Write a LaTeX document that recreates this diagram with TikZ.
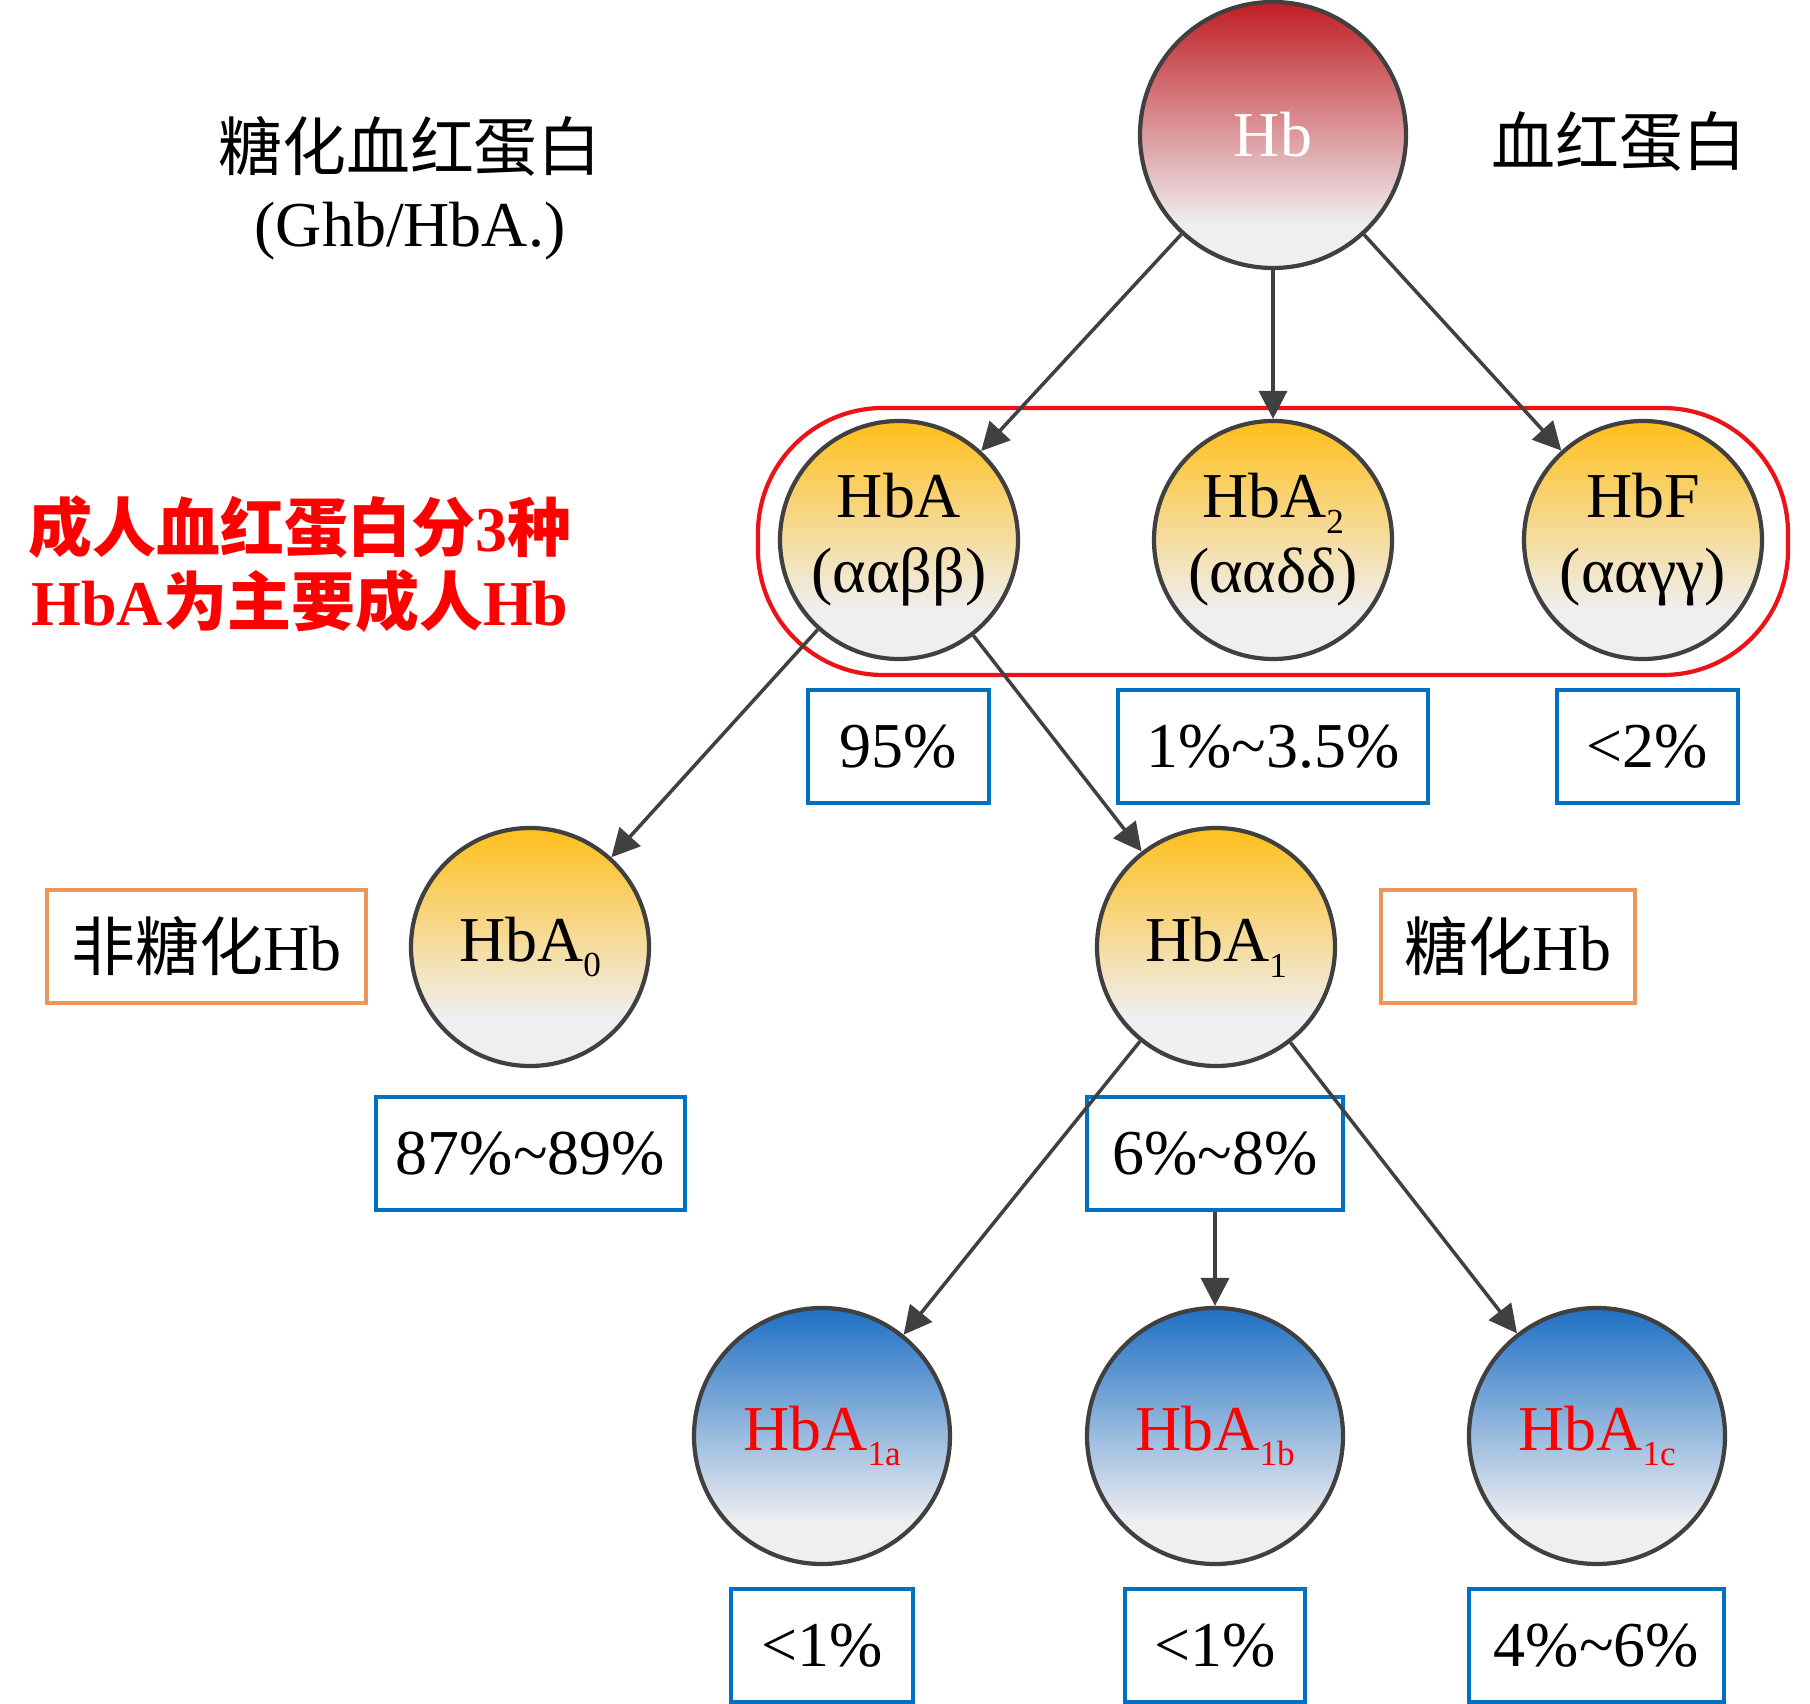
\documentclass[tikz,border=0pt]{standalone}
\usepackage{fontspec}
\setmainfont{Liberation Serif}
\newfontfamily\cjk{Noto Sans CJK SC}
\usetikzlibrary{arrows.meta,shapes}

\definecolor{hbred}{RGB}{192,30,36}
\definecolor{amber}{RGB}{255,191,28}
\definecolor{hbblue}{RGB}{30,112,196}
\definecolor{fadegray}{RGB}{239,239,241}
\definecolor{rimgray}{RGB}{64,64,64}
\definecolor{boxblue}{RGB}{0,112,192}
\definecolor{boxorange}{RGB}{237,150,90}
\definecolor{framered}{RGB}{236,18,24}

% vertical fades, bottom (0bp) to top (100bp)
\pgfdeclareverticalshading{redshade}{100bp}{color(0bp)=(fadegray); color(33bp)=(fadegray); color(75bp)=(hbred); color(100bp)=(hbred)}
\pgfdeclareverticalshading{ambershade}{100bp}{color(0bp)=(fadegray); color(35bp)=(fadegray); color(75bp)=(amber); color(100bp)=(amber)}
\pgfdeclareverticalshading{blueshade}{100bp}{color(0bp)=(fadegray); color(33bp)=(fadegray); color(75bp)=(hbblue); color(100bp)=(hbblue)}

\newcommand\hbfont{\fontsize{18.2}{21.3}\selectfont}
\newcommand\hbsub[1]{\raisebox{-4.5pt}{\fontsize{10}{12}\selectfont #1}}

\tikzset{
    %Define standard arrow tip
    >={Triangle[length=0.28cm,width=0.28cm]},
    % Define arrow style
    pil/.style={
           ->,
           draw=rimgray,
           line width=1pt},
    hbball/.style={circle, draw=rimgray, line width=1.2pt, minimum size=2.38cm,
           inner sep=0pt, align=center, font=\hbfont},
    yellowball/.style={hbball, shading=ambershade},
    blueball/.style={hbball, shading=blueshade, minimum size=2.56cm, text=red},
    valbox/.style={draw=boxblue, line width=1pt, minimum height=1.13cm, inner sep=0pt, font=\hbfont},
    notebox/.style={draw=boxorange, line width=1pt, minimum height=1.13cm, inner sep=0pt, font=\hbfont},
    groupframe/.style={draw=framered, line width=1.2pt, rounded corners=1.25cm,
           minimum width=10.30cm, minimum height=2.67cm, inner sep=0pt}
}

\begin{document}
\begin{tikzpicture}
\useasboundingbox (0,0) rectangle (18.10,-17.04);

% adult haemoglobins
\node[groupframe] (adult) at (12.73,-5.415) {};

\node[hbball, shading=redshade, minimum size=2.66cm, text=white] (hb) at (12.73,-1.35) {Hb};
\node[yellowball] (hba) at (8.99,-5.40) {HbA\\(ααββ)};
\node[yellowball] (hbatwo) at (12.73,-5.40) {HbA\hbsub{2}\\(ααδδ)};
\node[yellowball] (hbf) at (16.43,-5.40) {HbF\\(ααγγ)};
\node[yellowball] (hbazero) at (5.30,-9.47) {HbA\hbsub{0}};
\node[yellowball] (hbaone) at (12.16,-9.47) {HbA\hbsub{1}};
\node[blueball] (hbaonea) at (8.22,-14.36) {HbA\hbsub{1a}};
\node[blueball] (hbaoneb) at (12.15,-14.36) {HbA\hbsub{1b}};
\node[blueball] (hbaonec) at (15.97,-14.36) {HbA\hbsub{1c}};

\node[valbox, minimum width=1.81cm] (pcthba) at (8.985,-7.465) {95\%};
\node[valbox, minimum width=3.10cm] (pcthbatwo) at (12.73,-7.465) {1\%\textasciitilde3.5\%};
\node[valbox, minimum width=1.81cm] (pcthbf) at (16.475,-7.465) {<2\%};
\node[valbox, minimum width=3.09cm] (pcthbazero) at (5.305,-11.535) {87\%\textasciitilde89\%};
\node[valbox, minimum width=2.56cm] (pcthbaone) at (12.15,-11.535) {6\%\textasciitilde8\%};
\node[valbox, minimum width=1.82cm] (pctonea) at (8.22,-16.455) {<1\%};
\node[valbox, minimum width=1.80cm] (pctoneb) at (12.15,-16.455) {<1\%};
\node[valbox, minimum width=2.55cm] (pctonec) at (15.965,-16.455) {4\%\textasciitilde6\%};

\node[notebox, minimum width=3.19cm] (nonglyc) at (2.065,-9.465) {{\cjk 非糖化}Hb};
\node[notebox, minimum width=2.54cm] (glyc) at (15.08,-9.465) {{\cjk 糖化}Hb};

\node[font=\hbfont] (glyname) at (4.10,-1.46) {\cjk 糖化血红蛋白};
\node[font=\hbfont] (glyabbr) at (4.10,-2.31) {(Ghb/HbA.)};
\node[font=\hbfont] (hbname) at (16.19,-1.41) {\cjk 血红蛋白};
\node[font=\hbfont\bfseries, text=red] (adultone) at (3.00,-5.27) {{\cjk 成人血红蛋白分}3{\cjk 种}};
\node[font=\hbfont\bfseries, text=red] (adulttwo) at (3.00,-6.01) {HbA{\cjk 为主要成人}Hb};

\draw[pil] (hb) -- (hba);
\draw[pil] (hb) -- (hbatwo);
\draw[pil] (hb) -- (hbf);
\draw[pil] (hba) -- (hbazero);
\draw[pil] (hba) -- (hbaone);
\draw[pil] (hbaone) -- (hbaonea);
\draw[pil] (pcthbaone) -- (hbaoneb);
\draw[pil] (hbaone) -- (hbaonec);
\end{tikzpicture}
\end{document}
